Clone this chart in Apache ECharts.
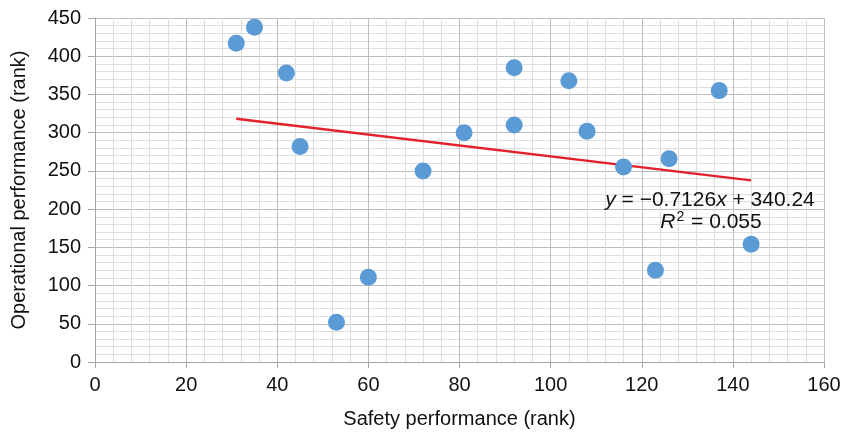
<html>
<head>
    <meta charset='utf-8' />
    <script src="https://cdn.jsdelivr.net/npm/echarts@6/dist/echarts.min.js"></script>
    <title>Safety vs operational performance</title>
    <style>
        body { margin: 0; background: #fff; overflow: hidden; }
        #chart { width: 844px; height: 434px; }
    </style>
</head>
<body>
    <div id="chart"></div>
    <script type="text/javascript">
        // ranks
        var safetyRank = [31, 35, 42, 45, 53, 60, 72, 81, 92, 92, 104, 108, 116, 123, 126, 137, 144];
        var operationalRank = [417, 438, 378, 282, 52, 111, 250, 300, 385, 310, 368, 302, 255, 120, 266, 355, 154];
        // linear trend line end points (y = -0.7126x + 340.24)
        var trendX = [31, 144];
        var trendY = [318.1, 237.6];
        var xTicks = [0, 20, 40, 60, 80, 100, 120, 140, 160];
        var yTicks = [0, 50, 100, 150, 200, 250, 300, 350, 400, 450];

        var points = safetyRank.map(function (x, i) { return [x, operationalRank[i]]; });
        var trend = trendX.map(function (x, i) { return [x, trendY[i]]; });

        var font = 'Liberation Sans, Arial, sans-serif';
        var ink = '#111111';
        var chart = echarts.init(document.getElementById('chart'));
        var option = {
            animation: false,
            backgroundColor: '#ffffff',
            grid: { left: 95, right: 20, top: 18, bottom: 72 },
            xAxis: {
                type: 'value',
                min: xTicks[0],
                max: xTicks[xTicks.length - 1],
                interval: 20,
                name: 'Safety performance (rank)',
                nameLocation: 'middle',
                nameGap: 47,
                nameTextStyle: { color: ink, fontSize: 20, fontFamily: font },
                axisLine: { show: true, lineStyle: { color: '#a6a6a6', width: 1 } },
                axisTick: { show: true, length: 6, lineStyle: { color: '#a6a6a6' } },
                axisLabel: { color: ink, fontSize: 20, fontFamily: font, margin: 13 },
                splitLine: { show: true, lineStyle: { color: '#bdbdbd', width: 1 } },
                minorTick: { show: false, splitNumber: 5 },
                minorSplitLine: { show: true, lineStyle: { color: '#dedede', width: 1 } }
            },
            yAxis: {
                type: 'value',
                min: yTicks[0],
                max: yTicks[yTicks.length - 1],
                interval: 50,
                name: 'Operational performance (rank)',
                nameLocation: 'middle',
                nameGap: 66,
                nameTextStyle: { color: ink, fontSize: 20, fontFamily: font },
                axisLine: { show: true, lineStyle: { color: '#a6a6a6', width: 1 } },
                axisTick: { show: true, length: 7, lineStyle: { color: '#a6a6a6' } },
                axisLabel: { color: ink, fontSize: 20, fontFamily: font, margin: 14 },
                splitLine: { show: true, lineStyle: { color: '#bdbdbd', width: 1 } },
                minorTick: { show: false, splitNumber: 5 },
                minorSplitLine: { show: true, lineStyle: { color: '#dedede', width: 1 } }
            },
            series: [
                {
                    name: 'Trend',
                    type: 'line',
                    data: trend,
                    symbol: 'none',
                    lineStyle: { color: '#e3212b', width: 2.5 },
                    z: 3
                },
                {
                    name: 'Airlines',
                    type: 'scatter',
                    data: points,
                    symbolSize: 17,
                    itemStyle: { color: '#5b9bd5', opacity: 1 },
                    z: 4
                }
            ],
            graphic: [
                {
                    type: 'text',
                    x: 710,
                    y: 200,
                    z: 10,
                    style: {
                        text: '{i|y} = \u22120.7126{i|x} + 340.24',
                        fill: ink,
                        font: '21px ' + font,
                        align: 'center',
                        verticalAlign: 'middle',
                        rich: {
                            i: { fontStyle: 'italic', fontSize: 21, fontFamily: font, fill: ink }
                        }
                    }
                },
                {
                    type: 'text',
                    x: 711,
                    y: 222,
                    z: 10,
                    style: {
                        text: '{i|R}{sup|2} = 0.055',
                        fill: ink,
                        font: '21px ' + font,
                        align: 'center',
                        verticalAlign: 'middle',
                        rich: {
                            i: { fontStyle: 'italic', fontSize: 21, fontFamily: font, fill: ink },
                            sup: { fontSize: 14, fontFamily: font, fill: ink, verticalAlign: 'top', padding: [0, 1, 10, 1] }
                        }
                    }
                }
            ]
        };
        chart.setOption(option);
    </script>
</body>
</html>
